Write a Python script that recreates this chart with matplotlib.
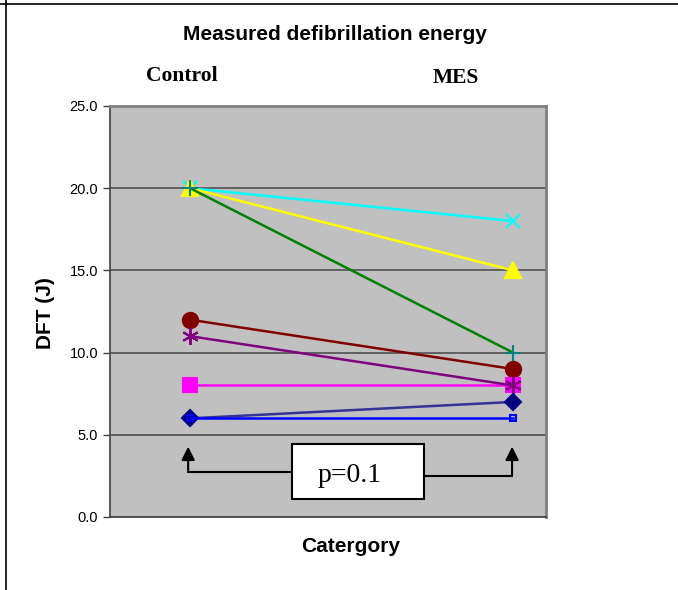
import matplotlib
matplotlib.use("Agg")
import matplotlib.pyplot as plt
from matplotlib.lines import Line2D
from matplotlib.patches import Rectangle

categories = ["Control", "MES"]
cat_pos = [0, 1]

# one line per subject: Control value, MES value
series_values = [
    [20, 18],
    [20, 15],
    [20, 10],
    [12, 9],
    [8, 8],
    [11, 8],
    [6, 7],
    [6, 6],
]
series_colors = ["#00ffff", "#ffff00", "#008000", "#800000", "#ff00ff",
                 "#800080", "#333399", "#0000ff"]
series_markers = ["x", "^", "+", "o", "s", (6, 2, 0), "D", "s"]
marker_colors = ["#00ffff", "#ffff00", "#008080", "#800000", "#ff00ff",
                 "#800080", "#000080", "#0000ff"]
marker_sizes = [10, 11, 11, 11, 10, 12, 8, 5]

y_ticks = [0, 5, 10, 15, 20, 25]
p_text = "p=0.1"

fig = plt.figure(figsize=(6.78, 5.90), dpi=100)
ax = fig.add_axes([110 / 678, 73 / 590, 436 / 678, 411 / 590])
ax.set_facecolor("#c0c0c0")

for vals, col, mk, mcol, ms in zip(series_values, series_colors, series_markers,
                                   marker_colors, marker_sizes):
    hollow = mk == "s" and ms < 6
    ax.plot(cat_pos, vals, color=col, lw=1.8, marker=mk, markersize=ms,
            markeredgecolor=mcol, markerfacecolor="none" if hollow else mcol,
            markeredgewidth=1.5, zorder=3)

ax.set_xlim(-0.248, 1.102)
ax.set_ylim(0, 25)
ax.set_yticks(y_ticks)
ax.set_yticklabels([f"{v:.1f}" for v in y_ticks], fontsize=10.5, family="Liberation Sans")
ax.set_xticks([])
ax.yaxis.grid(True, color="#505050", lw=1.2)
ax.set_axisbelow(True)
ax.tick_params(axis="y", length=5, width=1, color="#404040")
for side in ("left", "bottom"):
    ax.spines[side].set_color("#404040")
    ax.spines[side].set_linewidth(1.2)
for side in ("right", "top"):
    ax.spines[side].set_color("#808080")
    ax.spines[side].set_linewidth(2)

bold_sans = dict(fontsize=15, fontweight="bold", family="Liberation Sans")
fig.text(45 / 678, 1 - 313 / 590, "DFT (J)", rotation=90, ha="center", va="center", **bold_sans)
fig.text(351 / 678, 1 - 547 / 590, "Catergory", ha="center", va="center", **bold_sans)
fig.text(335 / 678, 1 - 34 / 590, "Measured defibrillation energy", ha="center", va="center",
         **bold_sans)
fig.text(182 / 678, 1 - 76 / 590, categories[0], ha="center", va="center",
         fontsize=15.5, fontweight="bold", family="Liberation Serif")
fig.text(456 / 678, 1 - 78 / 590, categories[1], ha="center", va="center",
         fontsize=15.5, fontweight="bold", family="Liberation Serif")

# significance bracket with arrows up to each group
arrow_kw = dict(arrowstyle="-|>", color="black", lw=1.5, mutation_scale=20)
ax.plot([-0.006, 0.315], [2.74, 2.74], color="black", lw=1.5)
ax.annotate("", xy=(-0.006, 4.45), xytext=(-0.006, 2.66), arrowprops=arrow_kw)
ax.plot([0.724, 0.997], [2.5, 2.5], color="black", lw=1.5)
ax.annotate("", xy=(0.997, 4.45), xytext=(0.997, 2.42), arrowprops=arrow_kw)
ax.add_patch(Rectangle((0.315, 1.1), 0.409, 3.37, facecolor="white",
                       edgecolor="black", lw=1.5, zorder=4))
ax.text(0.493, 2.55, p_text, ha="center", va="center", fontsize=20,
        family="Liberation Serif", zorder=5)

# frame lines along the top and left of the canvas
fig.add_artist(Line2D([0, 1], [1 - 4 / 590] * 2, color="black", lw=1.2))
fig.add_artist(Line2D([6 / 678] * 2, [0, 1], color="black", lw=1.2))

fig.savefig("out.png", dpi=100)
